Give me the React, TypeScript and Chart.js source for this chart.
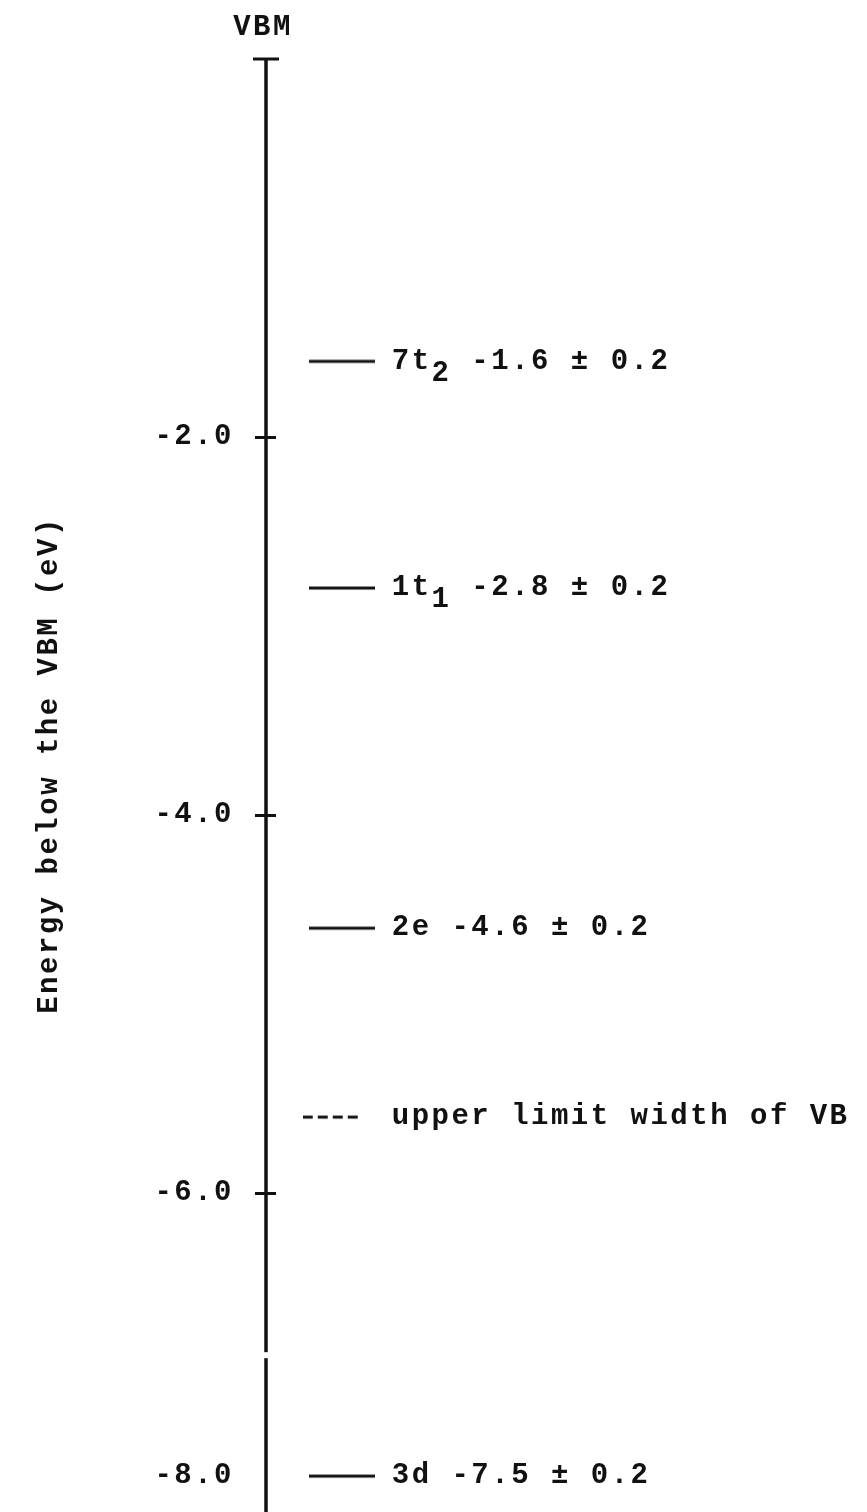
import { useEffect, useRef } from 'react';
import { Chart, registerables } from 'chart.js';

Chart.register(...registerables);

// ---- data ----
const levelNames = ['7t', '1t', '2e', 'upper limit width of VB', '3d'];
const levelSubscripts = ['2', '1', '', '', ''];
const levelEnergies = [-1.6, -2.8, -4.6, -5.6, -7.5];
const levelErrors: (number | null)[] = [0.2, 0.2, 0.2, null, 0.2];
const levelDashed = [false, false, false, true, false];

const yTickValues = [-2, -4, -6, -7.5];
const yTickLabels = ['-2.0', '-4.0', '-6.0', '-8.0'];
const yTickMarked = [true, true, true, false];

const axisTopLabel = 'VBM';
const axisTitle = 'Energy below the VBM (eV)';

// ---- style / layout ----
const INK = '#111111';
const FONT_FAMILY = "'Liberation Mono', 'DejaVu Sans Mono', monospace";
const FONT_SIZE = 29;
const LETTER_SPACING = '2.5px';
const Y_MIN = -7.69;
const Y_MAX = 0;
const AXIS_LEFT = 266;
const LEVEL_X = 0.126; // fraction of plot width where level marks are centred
const AXIS_BREAK = -6.86;

function makeLevelImage(dashed: boolean): HTMLCanvasElement {
  const c = document.createElement('canvas');
  const w = dashed ? 78 : 66;
  c.width = w;
  c.height = 6;
  const g = c.getContext('2d')!;
  g.strokeStyle = INK;
  g.lineWidth = 3;
  g.beginPath();
  if (dashed) {
    for (let i = 0; i < 4; i++) {
      g.moveTo(i * 15, 3);
      g.lineTo(i * 15 + 10, 3);
    }
  } else {
    g.moveTo(0, 3);
    g.lineTo(w, 3);
  }
  g.stroke();
  return c;
}

const diagramPlugin = {
  id: 'diagram',
  beforeDraw(chart: any) {
    const ctx = chart.ctx;
    ctx.fillStyle = '#ffffff';
    ctx.fillRect(0, 0, chart.width, chart.height);
    ctx.letterSpacing = LETTER_SPACING;
  },
  afterDatasetsDraw(chart: any) {
    const ctx = chart.ctx;
    const y = chart.scales.y;
    const left = chart.chartArea.left;
    const bottom = chart.height;
    const topY = y.getPixelForValue(Y_MAX);

    ctx.save();
    ctx.strokeStyle = INK;
    ctx.lineCap = 'butt';

    // axis line
    ctx.lineWidth = 3.5;
    ctx.beginPath();
    ctx.moveTo(left, topY);
    ctx.lineTo(left, bottom);
    ctx.stroke();

    // top cap
    ctx.lineWidth = 3;
    ctx.beginPath();
    ctx.moveTo(left - 13, topY);
    ctx.lineTo(left + 13, topY);
    ctx.stroke();

    // cross tick marks
    ctx.lineWidth = 3;
    yTickValues.forEach((v, i) => {
      if (!yTickMarked[i]) return;
      const py = Math.round(y.getPixelForValue(v)) + 0.5;
      ctx.beginPath();
      ctx.moveTo(left - 11, py);
      ctx.lineTo(left + 10, py);
      ctx.stroke();
    });

    // axis break
    const by = y.getPixelForValue(AXIS_BREAK);
    ctx.fillStyle = '#ffffff';
    ctx.fillRect(left - 4, by - 3, 8, 6);

    // texts
    ctx.fillStyle = INK;
    ctx.font = `bold ${FONT_SIZE}px ${FONT_FAMILY}`;
    ctx.letterSpacing = LETTER_SPACING;
    ctx.textBaseline = 'middle';

    ctx.textAlign = 'center';
    ctx.fillText(axisTopLabel, left - 3, topY - 31);

    // axis title
    ctx.save();
    ctx.translate(50, 765);
    ctx.rotate(-Math.PI / 2);
    ctx.textAlign = 'center';
    ctx.fillText(axisTitle, 0, 0);
    ctx.restore();

    // level labels
    const meta = chart.getDatasetMeta(0);
    ctx.textAlign = 'left';
    meta.data.forEach((pt: any, i: number) => {
      let x = pt.x + 50;
      const py = pt.y;
      const err = levelErrors[i];
      const name = levelNames[i];
      ctx.fillText(name, x, py);
      x += ctx.measureText(name).width;
      if (levelSubscripts[i]) {
        ctx.fillText(levelSubscripts[i], x, py + 12);
        x += ctx.measureText(levelSubscripts[i]).width;
      }
      if (err !== null) {
        const rest = ` ${levelEnergies[i].toFixed(1)} ± ${err.toFixed(1)}`;
        ctx.fillText(rest, x, py);
      }
    });
    ctx.restore();
  },
};

export default function App() {
  const ref = useRef<HTMLCanvasElement | null>(null);

  useEffect(() => {
    if (!ref.current) return;
    const images = levelDashed.map((d) => makeLevelImage(d));
    const chart = new Chart(ref.current, {
      type: 'scatter',
      data: {
        datasets: [
          {
            data: levelEnergies.map((e) => ({ x: LEVEL_X, y: e })),
            pointStyle: images as any,
            pointRadius: 0.1,
            showLine: false,
            clip: false as any,
          },
        ],
      },
      options: {
        animation: false,
        responsive: false,
        devicePixelRatio: 1,
        layout: { autoPadding: false, padding: { top: 59, left: 0, right: 0, bottom: 0 } },
        plugins: {
          legend: { display: false },
          tooltip: { enabled: false },
        },
        events: [],
        scales: {
          x: {
            type: 'linear',
            display: false,
            min: 0,
            max: 1,
          },
          y: {
            type: 'linear',
            min: Y_MIN,
            max: Y_MAX,
            afterFit: (scale: any) => {
              scale.width = AXIS_LEFT;
              scale.paddingTop = 0;
              scale.paddingBottom = 0;
            },
            afterBuildTicks: (scale: any) => {
              scale.ticks = yTickValues.map((v) => ({ value: v }));
            },
            grid: { display: false, drawTicks: false },
            border: { display: false },
            ticks: {
              autoSkip: false,
              padding: 32,
              color: INK,
              font: { family: FONT_FAMILY, size: FONT_SIZE, weight: 'bold' },
              callback: (_v: any, i: number) => yTickLabels[i],
            },
          },
        },
      },
      plugins: [diagramPlugin],
    });
    return () => chart.destroy();
  }, []);

  return (
    <div style={{ position: 'absolute', left: 0, top: 0, width: 867, height: 1512 }}>
      <canvas ref={ref} width={867} height={1512} style={{ display: 'block' }} />
    </div>
  );
}
